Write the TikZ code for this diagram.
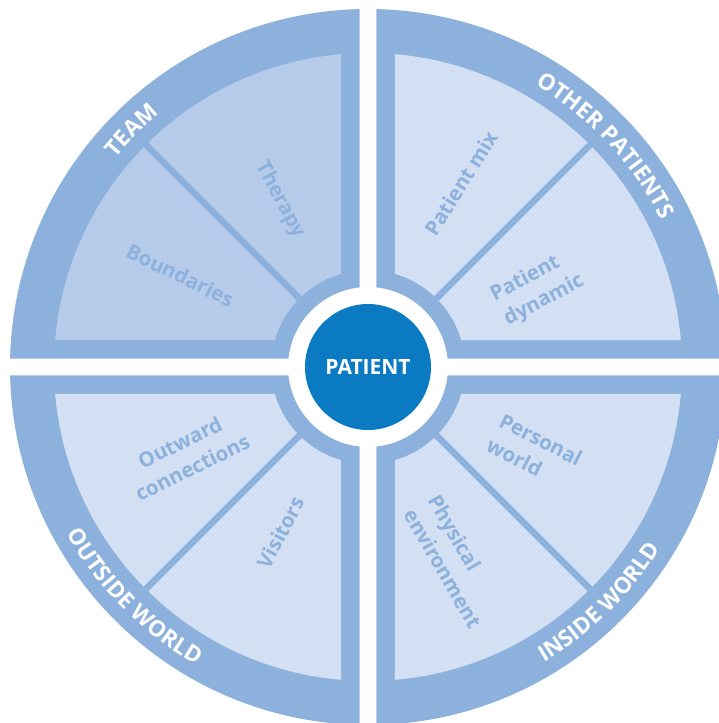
\documentclass[tikz,border=0pt]{standalone}
\usepackage{fontspec}
\setmainfont{Open Sans}
\usetikzlibrary{decorations.text}
\definecolor{bandblue}{HTML}{8DB1DD}
\definecolor{teamfill}{HTML}{B6CBEA}
\definecolor{palefill}{HTML}{D3E0F3}
\definecolor{patientblue}{HTML}{0A7BC3}
\newcommand{\bandfont}{\color{white}\bfseries\fontsize{22.5}{22.5}\selectfont}
\tikzset{
  sector/.style={fill=bandblue, draw=none},
  label/.style={text=bandblue, font=\bfseries\fontsize{20.5}{28}\selectfont, inner sep=0pt},
  divider/.style={draw=bandblue, line width=6.5pt},
  bandtext/.style={decorate, decoration={text along path, text align=center, text={|\bandfont|#1}}}
}
\begin{document}
\begin{tikzpicture}[x=1pt,y=1pt]
\useasboundingbox (-368,-356) rectangle (351,367);
% outer bands
\fill [sector] (83.9:80) -- (88.64:358) arc (88.64:1.36:358) -- (6.1:80) arc (6.1:83.9:80) -- cycle;
\fill [sector] (96.1:80) -- (91.36:358) arc (91.36:178.64:358) -- (173.9:80) arc (173.9:96.1:80) -- cycle;
\fill [sector] (186.1:80) -- (181.36:358) arc (181.36:268.64:358) -- (263.9:80) arc (263.9:186.1:80) -- cycle;
\fill [sector] (276.1:80) -- (271.36:358) arc (271.36:358.64:358) -- (353.9:80) arc (353.9:276.1:80) -- cycle;
% inner fields
\fill [palefill] (73.84:97) -- (85.07:314) arc (85.07:4.93:314) -- (16.16:97) arc (16.16:73.84:97) -- cycle;
\fill [teamfill] (106.16:97) -- (94.93:314) arc (94.93:175.07:314) -- (163.84:97) arc (163.84:106.16:97) -- cycle;
\fill [palefill] (196.16:97) -- (184.93:314) arc (184.93:265.07:314) -- (253.84:97) arc (253.84:196.16:97) -- cycle;
\fill [palefill] (286.16:97) -- (274.93:314) arc (274.93:355.07:314) -- (343.84:97) arc (343.84:286.16:97) -- cycle;
% dividers
\draw [divider] (45:94) -- (45:317);
\draw [divider] (135:94) -- (135:317);
\draw [divider] (225:94) -- (225:317);
\draw [divider] (315:94) -- (315:317);
% centre
\node (patient) [circle, fill=patientblue, minimum size=126pt, inner sep=0pt, text=white, font=\bfseries\fontsize{21}{21}\selectfont] at (0,0) {PATIENT};
% band titles
\path [bandtext=TEAM] (165:328) arc (165:105:328);
\path [bandtext=OTHER PATIENTS] (83:328) arc (83:3:328);
\path [bandtext=OUTSIDE WORLD] (185:344) arc (185:264:344);
\path [bandtext=INSIDE WORLD] (275:344) arc (275:354:344);
% field labels
\node (therapy) [label, rotate=-62] at (117.8:189) {Therapy};
\node (boundaries) [label, rotate=-26] at (153.9:209) {Boundaries};
\node (mix) [label, rotate=58] at (63.2:206) {Patient mix};
\node (dynamic) [label, rotate=28, align=left] at (24.9:187) {Patient\\dynamic};
\node (outward) [label, rotate=26, align=center] at (205.8:202) {Outward\\connections};
\node (visitors) [label, rotate=62] at (242.2:187) {Visitors};
\node (personal) [label, rotate=-27, align=left] at (-27:187) {Personal\\world};
\node (physical) [label, rotate=-60, align=left] at (-65.9:213) {Physical\\environment};
\end{tikzpicture}
\end{document}
